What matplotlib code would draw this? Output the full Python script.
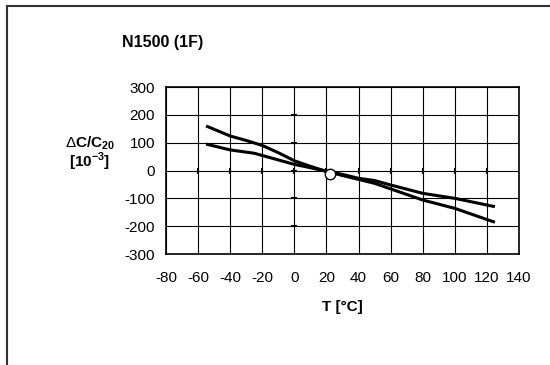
import matplotlib
matplotlib.use("Agg")
import matplotlib.pyplot as plt
from matplotlib.lines import Line2D

plt.rcParams["font.family"] = ["Liberation Sans", "DejaVu Sans"]
plt.rcParams["axes.unicode_minus"] = False
plt.rcParams["mathtext.fontset"] = "custom"
plt.rcParams["mathtext.rm"] = "Liberation Sans"
plt.rcParams["mathtext.bf"] = "Liberation Sans:bold"

# capacitance change vs temperature, two limit curves
temp_a = [-55, -40, -30, -20, -10, 0, 10, 20, 30, 40, 50, 60, 80, 100, 125]
dc_a = [160, 124, 108, 90, 64, 35, 15, -3, -18, -32, -46, -66, -106, -136, -186]

temp_b = [-55, -40, -25, -10, 0, 10, 20, 30, 40, 50, 60, 80, 100, 125]
dc_b = [95, 74, 62, 38, 22, 10, -3, -14, -28, -36, -52, -82, -100, -130]

ref_point = (22, -12)

x_ticks = list(range(-80, 141, 20))
y_ticks = list(range(-300, 301, 100))

fig = plt.figure(figsize=(5.5, 3.65), dpi=100)
ax = fig.add_axes([0.3018, 0.3041, 0.6418, 0.4575])

ax.set_xlim(-80, 140)
ax.set_ylim(-300, 300)
ax.set_xticks(x_ticks)
ax.set_yticks(y_ticks)
ax.tick_params(length=0, labelsize=11)
ax.tick_params(axis="x", pad=12)
ax.tick_params(axis="y", pad=8)
ax.grid(True, color="black", linewidth=0.8)
for sp in ax.spines.values():
    sp.set_linewidth(1.2)

# small tick marks along the zero lines
ax.plot(x_ticks[1:-1], [0] * (len(x_ticks) - 2), ls="none", marker="|",
        color="black", markersize=5, markeredgewidth=1.5)
ax.plot([0] * (len(y_ticks) - 2), y_ticks[1:-1], ls="none", marker="_",
        color="black", markersize=5, markeredgewidth=1.5)

ax.plot(temp_a, dc_a, color="black", linewidth=2.2, solid_capstyle="butt")
ax.plot(temp_b, dc_b, color="black", linewidth=2.2, solid_capstyle="butt")
ax.plot(*ref_point, marker="o", markersize=7.5, markerfacecolor="white",
        markeredgecolor="black", markeredgewidth=1.0, zorder=5)

fig.text(122 / 550, 1 - 43 / 365, "N1500 (1F)", fontsize=11.5,
         fontweight="bold", ha="left", va="center")
fig.text(90 / 550, 1 - 143 / 365, r"$\Delta$C/C$_{\mathbf{20}}$", fontsize=11,
         fontweight="bold", ha="center", va="center")
fig.text(90 / 550, 1 - 162 / 365, r"[10$^{\mathbf{-3}}$]", fontsize=11,
         fontweight="bold", ha="center", va="center")
fig.text(342 / 550, 1 - 307 / 365, "T [°C]", fontsize=11,
         fontweight="bold", ha="center", va="center")

# outer frame, top and left edges only
fig.add_artist(Line2D([7 / 550, 1.0], [1 - 6 / 365, 1 - 6 / 365],
                      transform=fig.transFigure, color="#333333", linewidth=1.5))
fig.add_artist(Line2D([7 / 550, 7 / 550], [0.0, 1 - 6 / 365],
                      transform=fig.transFigure, color="#333333", linewidth=1.5))

fig.savefig("out.png", dpi=100)
